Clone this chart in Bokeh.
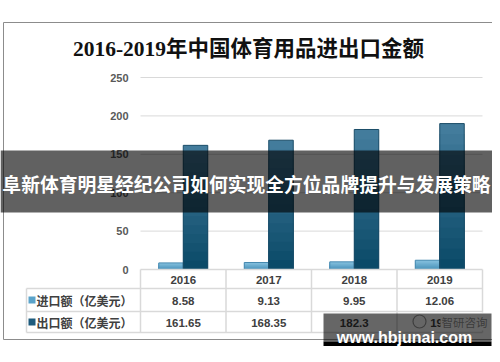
import numpy as np
from bokeh.plotting import figure
from bokeh.models import Range1d
from bokeh.core.properties import value
from bokeh.embed import file_html
from bokeh.resources import INLINE

# ---------------- data ----------------
years = ["2016", "2017", "2018", "2019"]
import_vals = [8.58, 9.13, 9.95, 12.06]
export_vals = [161.65, 168.35, 182.3, 190.0]
import_labels = ["8.58", "9.13", "9.95", "12.06"]
export_labels = ["161.65", "168.35", "182.3", "190"]
y_ticks = [0, 50, 100, 150, 200, 250]
series_names = ["进口额（亿美元）", "出口额（亿美元）"]
title_text = "2016-2019年中国体育用品进出口金额"
banner_text = "阜新体育明星经纪公司如何实现全方位品牌提升与发展策略"
site_text = "www.hbjunai.com"
brand_text = "智研咨询"

# ---------------- layout (picture pixels) ----------------
PLOT_L, PLOT_R = 140, 482
ZERO_Y, TOP_Y = 269, 77
CAT_W = (PLOT_R - PLOT_L) / len(years)
PX_PER_VAL = (ZERO_Y - TOP_Y) / max(y_ticks)
BAR_W = 24.5 / CAT_W


def X(px):
    return (px - PLOT_L) / CAT_W - 0.5


def Y(py):
    return (ZERO_Y - py) / PX_PER_VAL


W, H = 492, 346
p = figure(width=W, height=H, output_backend="svg", toolbar_location=None,
           x_range=Range1d(X(0), X(W)), y_range=Range1d(Y(H), Y(0)),
           x_axis_location=None, y_axis_location=None, min_border=0)
p.outline_line_color = None
p.grid.visible = False
p.background_fill_color = "white"
p.border_fill_color = "white"

SANS = value("Liberation Sans")
CJK = value("Noto Sans CJK SC")

# outer frame
p.quad(left=[X(3)], right=[X(495)], top=[Y(22)], bottom=[Y(339)],
       fill_color=None, line_color="#8c8c8c", line_width=1)

# title
p.text(x=[X(248)], y=[Y(48)], text=[title_text],
       text_font=value("'Liberation Serif', 'Noto Sans CJK SC'"),
       text_font_size="21.5px", text_font_style="bold", text_color="#111111",
       text_align="center", text_baseline="middle")

# grid lines and y tick labels
grid_vals = [v for v in y_ticks if v > 0]
p.segment(x0=[-0.5] * len(grid_vals), x1=[len(years) - 0.5] * len(grid_vals),
          y0=grid_vals, y1=grid_vals, line_color="#d9d9d9", line_width=1)
p.text(x=[X(128)] * len(y_ticks), y=y_ticks, text=[str(v) for v in y_ticks],
       text_font=SANS, text_font_size="11px", text_font_style="bold",
       text_color="#595959", text_align="right", text_baseline="middle")


def hexmix(c1, c2, t):
    a = [int(c1[i:i + 2], 16) for i in (1, 3, 5)]
    b = [int(c2[i:i + 2], 16) for i in (1, 3, 5)]
    return "#%02x%02x%02x" % tuple(int(round(a[k] + (b[k] - a[k]) * t)) for k in range(3))


def gradient_bars(lefts, rights, vals, top_c, bot_c, edge_c, n=14):
    for k in range(n):
        frac = 1 - k / n
        p.quad(left=lefts, right=rights, bottom=[0] * len(vals),
               top=[v * frac for v in vals],
               fill_color=hexmix(top_c, bot_c, k / (n - 1)), line_color=None)
    p.quad(left=lefts, right=rights, bottom=[0] * len(vals), top=vals,
           fill_color=None, line_color=edge_c, line_width=1)


idx = np.arange(len(years))
gradient_bars(list(idx - BAR_W), list(idx + 0.0), import_vals,
              "#86c1de", "#4a93bb", "#4589b0")
gradient_bars(list(idx + 0.0), list(idx + BAR_W), export_vals,
              "#437c9c", "#0b4a68", "#1b4d68")

# ---------------- data table ----------------
ROWS = [269, 288, 311, 332]
LBL_L = 26
GRID = "#d9d9d9"
col_edges = [i - 0.5 for i in range(len(years) + 1)]
p.segment(x0=[-0.5], x1=[len(years) - 0.5], y0=[Y(ROWS[0])], y1=[Y(ROWS[0])],
          line_color=GRID, line_width=1.5)
p.segment(x0=[X(LBL_L)] * 3, x1=[len(years) - 0.5] * 3,
          y0=[Y(r) for r in ROWS[1:]], y1=[Y(r) for r in ROWS[1:]],
          line_color=GRID, line_width=1.5)
p.segment(x0=col_edges, x1=col_edges, y0=[Y(ROWS[0])] * len(col_edges),
          y1=[Y(ROWS[-1])] * len(col_edges), line_color=GRID, line_width=1.5)
p.segment(x0=[X(LBL_L)], x1=[X(LBL_L)], y0=[Y(ROWS[1])], y1=[Y(ROWS[-1])],
          line_color=GRID, line_width=1.5)

row_mid = [(ROWS[i] + ROWS[i + 1]) / 2 + 0.5 for i in range(3)]
cell_font = dict(text_font=SANS, text_font_size="11.5px", text_font_style="bold",
                 text_color="#404040", text_align="center", text_baseline="middle")
p.text(x=list(idx), y=[Y(row_mid[0])] * len(years), text=years, **cell_font)
p.text(x=list(idx), y=[Y(row_mid[1])] * len(years), text=import_labels, **cell_font)
p.text(x=list(idx), y=[Y(row_mid[2])] * len(years), text=export_labels, **cell_font)

key_colors = ["#5aa3ca", "#1d5b7d"]
for r, (name, kc) in enumerate(zip(series_names, key_colors)):
    cy = row_mid[r + 1]
    p.quad(left=[X(28)], right=[X(35)], top=[Y(cy - 4)], bottom=[Y(cy + 3)],
           fill_color=kc, line_color=None)
    p.text(x=[X(36)], y=[Y(cy)], text=[name], text_font=CJK,
           text_font_size="12px", text_font_style="bold", text_color="#404040",
           text_align="left", text_baseline="middle")

# source watermark inside the table
p.quad(left=[X(440)], right=[X(488)], top=[Y(312)], bottom=[Y(330)],
       fill_color="white", line_color=None)
p.scatter(x=[X(419)], y=[Y(321)], size=13, marker="circle",
          fill_color="white", line_color="#9a9a9a", line_width=1.2)
p.text(x=[X(441)], y=[Y(321)], text=[brand_text], text_font=CJK,
       text_font_size="11.5px", text_color="#8a8a8a", text_alpha=0.9,
       text_align="left", text_baseline="middle")

# ---------------- overlay banner ----------------
p.quad(left=[X(0)], right=[X(500)], top=[Y(150)], bottom=[Y(212)],
       fill_color="black", fill_alpha=0.62, line_color=None)
p.text(x=[X(246)], y=[Y(183)], text=[banner_text], text_font=CJK,
       text_font_size="18.8px", text_font_style="bold", text_color="white",
       text_align="center", text_baseline="middle")

# ---------------- site watermark ----------------
p.quad(left=[X(323)], right=[X(491)], top=[Y(313)], bottom=[Y(341)],
       fill_color="black", fill_alpha=0.6, line_color=None)
p.quad(left=[X(323)], right=[X(491)], top=[Y(341)], bottom=[Y(353)],
       fill_color="black", line_color=None)
p.text(x=[X(404)], y=[Y(336.5)], text=[site_text], text_font=SANS,
       text_font_size="16px", text_font_style="bold", text_color="white",
       text_align="center", text_baseline="alphabetic")

open("out.html", "w").write(file_html(p, INLINE))
